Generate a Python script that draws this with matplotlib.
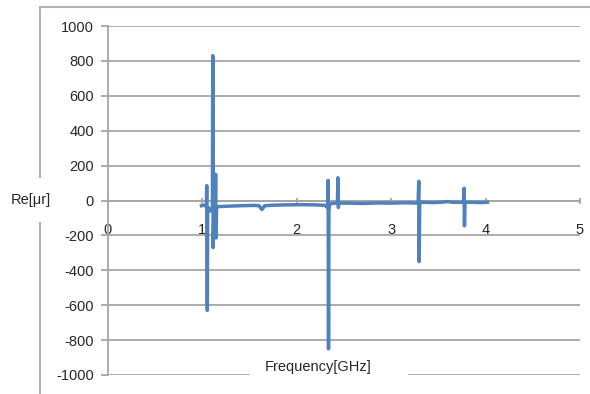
import matplotlib.pyplot as plt
from matplotlib.patches import Rectangle

plt.rcParams['font.family'] = ['Liberation Sans', 'DejaVu Sans']
plt.rcParams['axes.unicode_minus'] = False

# Frequency [GHz] and Re[μr]
freq = [0.99, 1.02, 1.042, 1.046, 1.052, 1.056, 1.065, 1.08, 1.10, 1.106,
        1.110, 1.114, 1.118, 1.125, 1.136, 1.140, 1.144, 1.150, 1.16, 1.25,
        1.40, 1.55, 1.60, 1.63, 1.66, 1.75, 1.90, 2.05, 2.20, 2.30,
        2.325, 2.332, 2.336, 2.340, 2.348, 2.40, 2.430, 2.436, 2.440, 2.446,
        2.46, 2.55, 2.70, 2.85, 3.00, 3.15, 3.285, 3.292, 3.296, 3.302,
        3.32, 3.45, 3.55, 3.60, 3.65, 3.765, 3.772, 3.776, 3.782, 3.85,
        3.95, 4.02]
re_mu = [-30, -28, -30, 85, -630, -45, -40, -60, -50, -40,
         830, -270, -150, -60, -40, 150, -215, -40, -35, -33,
         -30, -28, -30, -52, -30, -27, -25, -24, -25, -28,
         -40, 115, -850, -60, -20, -15, -15, 130, -40, -15,
         -15, -15, -17, -14, -15, -13, -15, 110, -350, -15,
         -10, -12, -9, -6, -10, -10, 70, -145, -10, -10,
         -12, -10]

xticks = [0, 1, 2, 3, 4, 5]
yticks = list(range(-1000, 1001, 200))

fig = plt.figure(figsize=(5.9, 3.94), dpi=100)
ax = fig.add_axes([108 / 590, 19 / 394, 472 / 590, 349 / 394])

grey = '#a6a6a6'
ax.plot(freq, re_mu, color='#4f81bd', lw=2.5, zorder=5)

ax.set_xlim(0, 5)
ax.set_ylim(-1000, 1000)
ax.set_xticks(xticks)
ax.set_yticks(yticks)
ax.yaxis.grid(True, color=grey, lw=1.3, zorder=1)
ax.set_axisbelow(True)

for s in ['top', 'right']:
    ax.spines[s].set_visible(False)
ax.spines['left'].set_color(grey)
ax.spines['left'].set_linewidth(1.3)
ax.spines['bottom'].set_position(('data', 0))
ax.spines['bottom'].set_color(grey)
ax.spines['bottom'].set_linewidth(1.3)

ax.tick_params(axis='y', direction='out', length=5, width=1.3, color=grey,
               pad=5, labelsize=10.5, labelcolor='#262626')
ax.tick_params(axis='x', direction='inout', length=5, width=1.3, color=grey,
               pad=14, labelsize=10.5, labelcolor='#262626')

# white box of the axis title, cuts the bottom gridline
ax.add_patch(Rectangle((0.30, -0.03), 0.336, 0.075, transform=ax.transAxes,
                       fc='white', ec='none', zorder=8, clip_on=False))
ax.text(0.445, 0.023, 'Frequency[GHz]', transform=ax.transAxes, ha='center',
        va='center', fontsize=10.5, color='#262626', zorder=10)

# chart area frame
fig.patches.append(Rectangle((40 / 590, -0.05), 1.0, 1.05 - 7 / 394,
                             transform=fig.transFigure, fill=False,
                             ec='#b3b3b3', lw=1.5, zorder=0))
fig.text(11 / 590, 1 - 200 / 394, 'Re[μr]', ha='left', va='center',
         fontsize=10.5, color='#262626', zorder=10,
         bbox=dict(boxstyle='square,pad=1.0', fc='white', ec='none'))

fig.savefig('out.png', dpi=100)
